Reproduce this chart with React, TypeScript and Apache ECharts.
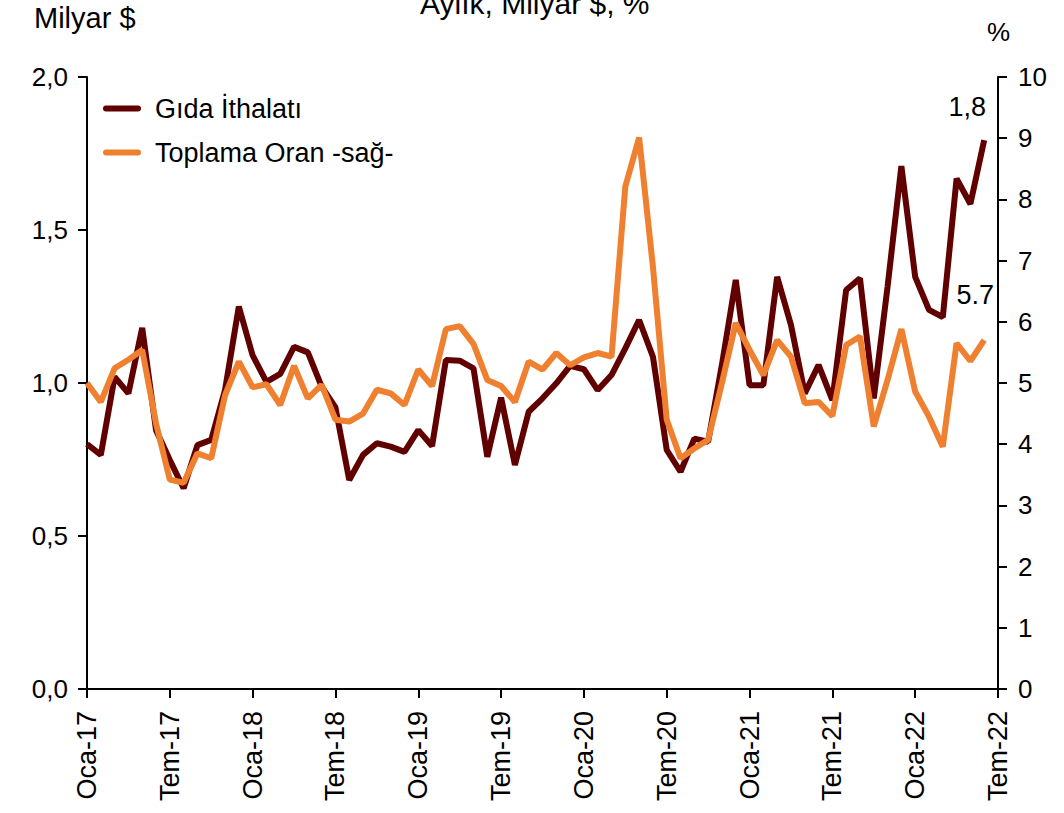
import React, { useEffect, useRef } from "react";
import * as echarts from "echarts";

const monthNames = ["Oca", "Şub", "Mar", "Nis", "May", "Haz", "Tem", "Ağu", "Eyl", "Eki", "Kas", "Ara"];
const startYear = 2017;
const monthCount = 67; // Oca-17 .. Tem-22
const categories: string[] = Array.from({ length: monthCount }, (_, i) => {
  const y = startYear + Math.floor(i / 12);
  return `${monthNames[i % 12]}-${String(y).slice(2)}`;
});

const gidaIthalati = [
  0.80, 0.765, 1.02, 0.966, 1.18, 0.846, 0.748, 0.656, 0.797, 0.814, 0.977, 1.25,
  1.09, 1.004, 1.03, 1.118, 1.10, 0.988, 0.92, 0.683, 0.765, 0.803, 0.792, 0.775,
  0.846, 0.794, 1.075, 1.073, 1.048, 0.759, 0.952, 0.732, 0.906, 0.95, 0.999, 1.056,
  1.045, 0.977, 1.026, 1.113, 1.206, 1.086, 0.781, 0.71, 0.818, 0.808, 1.06, 1.337,
  0.993, 0.993, 1.347, 1.19, 0.966, 1.059, 0.944, 1.304, 1.342, 0.95, 1.315, 1.709,
  1.347, 1.239, 1.215, 1.668, 1.585, 1.794,
];

const toplamaOran = [
  5.0, 4.69, 5.24, 5.38, 5.54, 4.34, 3.42, 3.37, 3.85, 3.77, 4.80, 5.35,
  4.93, 4.98, 4.64, 5.28, 4.75, 4.97, 4.40, 4.37, 4.50, 4.89, 4.83, 4.64,
  5.22, 4.95, 5.88, 5.93, 5.64, 5.05, 4.95, 4.69, 5.35, 5.22, 5.49, 5.29,
  5.42, 5.49, 5.43, 8.21, 9.01, 6.90, 4.40, 3.77, 3.93, 4.07, 5.0, 5.98,
  5.54, 5.13, 5.70, 5.43, 4.67, 4.69, 4.46, 5.62, 5.76, 4.29, 5.05, 5.88,
  4.86, 4.45, 3.96, 5.65, 5.36, 5.70,
];

const seriesNames = ["Gıda İthalatı", "Toplama Oran -sağ-"];
const leftTicks = { min: 0, max: 2, interval: 0.5 };
const rightTicks = { min: 0, max: 10, interval: 1 };

const FONT = "'Liberation Sans', Arial, sans-serif";

export default function App() {
  const ref = useRef<HTMLDivElement>(null);

  useEffect(() => {
    document.body.style.margin = "0";
    if (!ref.current) return;
    const chart = echarts.init(ref.current, undefined, { renderer: "svg" });

    const lastIdx = gidaIthalati.length - 1;
    const axisLineStyle = { color: "#000", width: 2 };

    chart.setOption({
      animation: false,
      backgroundColor: "#fff",
      grid: { left: 87, right: 66, top: 77, bottom: 124, containLabel: false },
      legend: {
        data: seriesNames,
        orient: "vertical",
        left: 98,
        top: 90,
        itemWidth: 32,
        itemHeight: 14,
        itemGap: 17,
        lineStyle: { width: 6, cap: "round" },
        itemStyle: { opacity: 0 },
        textStyle: { fontSize: 27, fontFamily: FONT, color: "#000", padding: [0, 0, 0, 12] },
      },
      graphic: [
        {
          type: "text",
          left: 420,
          top: -12,
          style: { text: "Aylık, Milyar $, %", fontSize: 30, fontFamily: FONT, fill: "#000" },
        },
        {
          type: "text",
          left: 34,
          top: 3,
          style: { text: "Milyar $", fontSize: 29, fontFamily: FONT, fill: "#000" },
        },
        {
          type: "text",
          left: 987,
          top: 19,
          style: { text: "%", fontSize: 26, fontFamily: FONT, fill: "#000" },
        },
      ],
      xAxis: {
        type: "category",
        data: categories,
        boundaryGap: false,
        axisLine: { lineStyle: axisLineStyle },
        axisTick: { show: true, interval: 5, length: 9, lineStyle: axisLineStyle },
        axisLabel: {
          interval: 5,
          rotate: 90,
          margin: 22,
          fontSize: 27,
          fontFamily: FONT,
          color: "#000",
        },
        splitLine: { show: false },
      },
      yAxis: [
        {
          type: "value",
          ...leftTicks,
          position: "left",
          axisLine: { show: true, lineStyle: axisLineStyle },
          axisTick: { show: true, length: 9, lineStyle: axisLineStyle },
          axisLabel: {
            margin: 19,
            fontSize: 26,
            fontFamily: FONT,
            color: "#000",
            formatter: (v: number) => v.toFixed(1).replace(".", ","),
          },
          splitLine: { show: false },
        },
        {
          type: "value",
          ...rightTicks,
          position: "right",
          axisLine: { show: true, lineStyle: axisLineStyle },
          axisTick: { show: true, length: 9, lineStyle: axisLineStyle },
          axisLabel: { margin: 20, fontSize: 26, fontFamily: FONT, color: "#000" },
          splitLine: { show: false },
        },
      ],
      series: [
        {
          name: seriesNames[0],
          type: "line",
          yAxisIndex: 0,
          data: gidaIthalati,
          symbol: "none",
          lineStyle: { color: "#600000", width: 6 },
          itemStyle: { color: "#600000" },
          z: 2,
          markPoint: {
            symbol: "circle",
            symbolSize: 0,
            silent: true,
            data: [
              {
                coord: [lastIdx, gidaIthalati[lastIdx]],
                value: gidaIthalati[lastIdx],
                label: {
                  show: true,
                  position: "top",
                  offset: [-17, -15],
                  formatter: (p: any) => Number(p.value).toFixed(1).replace(".", ","),
                  fontSize: 27,
                  fontFamily: FONT,
                  color: "#000",
                },
              },
            ],
          },
        },
        {
          name: seriesNames[1],
          type: "line",
          yAxisIndex: 1,
          data: toplamaOran,
          symbol: "none",
          lineStyle: { color: "#EE8030", width: 6 },
          itemStyle: { color: "#EE8030" },
          z: 3,
          markPoint: {
            symbol: "circle",
            symbolSize: 0,
            silent: true,
            data: [
              {
                coord: [lastIdx, toplamaOran[lastIdx]],
                value: toplamaOran[lastIdx],
                label: {
                  show: true,
                  position: "top",
                  offset: [-9, -27],
                  formatter: (p: any) => Number(p.value).toFixed(1),
                  fontSize: 27,
                  fontFamily: FONT,
                  color: "#000",
                },
              },
            ],
          },
        },
      ],
    });

    return () => chart.dispose();
  }, []);

  return <div ref={ref} style={{ width: 1064, height: 813 }} />;
}
